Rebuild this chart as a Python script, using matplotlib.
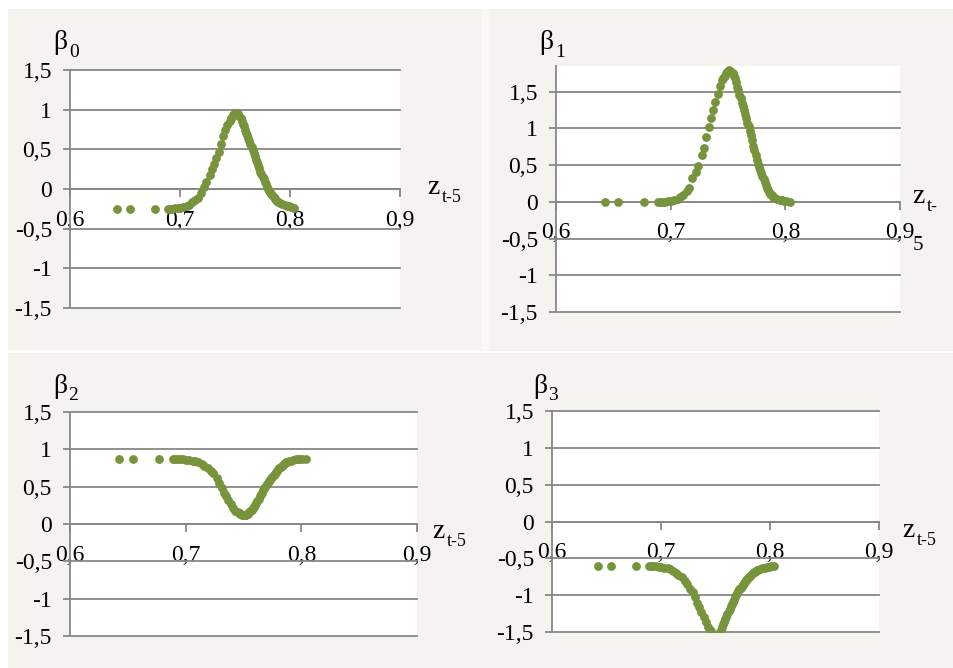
import matplotlib
matplotlib.use('Agg')
import matplotlib.pyplot as plt
from matplotlib.patches import Rectangle
import numpy as np

# shared z_{t-5} values of the points
z = [0.6425, 0.6545, 0.6770, 0.6890, 0.6910, 0.6930, 0.6950, 0.6980, 0.7000,
     0.7030, 0.7060, 0.7080, 0.7110, 0.7140, 0.7160, 0.7190, 0.7220, 0.7240,
     0.7270, 0.7290, 0.7310, 0.7330, 0.7350, 0.7370, 0.7390, 0.7410, 0.7430,
     0.745, 0.746, 0.747, 0.748, 0.749, 0.750, 0.751, 0.752, 0.753, 0.754,
     0.755, 0.756, 0.757, 0.758, 0.759, 0.760, 0.761, 0.762, 0.763, 0.764,
     0.765, 0.766, 0.767, 0.768, 0.769, 0.770, 0.771, 0.772, 0.773, 0.774,
     0.775, 0.776, 0.777, 0.778, 0.779, 0.780, 0.781, 0.782, 0.783, 0.784,
     0.785, 0.786, 0.787, 0.788, 0.789,
     0.791, 0.793, 0.795, 0.797, 0.799, 0.801, 0.804]

beta0 = [-0.25, -0.25, -0.25, -0.25, -0.25, -0.25, -0.245, -0.24, -0.235,
         -0.225, -0.21, -0.20, -0.17, -0.14, -0.11, -0.05, 0.03, 0.09,
         0.18, 0.25, 0.32, 0.39, 0.47, 0.57, 0.67, 0.74, 0.81,
         0.86, 0.89, 0.91, 0.93, 0.95, 0.96, 0.96, 0.955, 0.94, 0.92,
         0.89, 0.86, 0.82, 0.79, 0.75, 0.71, 0.68, 0.64, 0.61, 0.57,
         0.53, 0.49, 0.45, 0.41, 0.37, 0.34, 0.30, 0.26, 0.22, 0.19,
         0.15, 0.12, 0.09, 0.06, 0.03, 0.00, -0.02, -0.04, -0.06, -0.08,
         -0.10, -0.12, -0.135, -0.15, -0.16,
         -0.18, -0.19, -0.20, -0.21, -0.22, -0.23, -0.245]

beta1 = [0.0, 0.0, 0.0, 0.0, 0.0, 0.0, 0.0, 0.005, 0.01,
         0.02, 0.04, 0.07, 0.10, 0.15, 0.19, 0.32, 0.40, 0.49,
         0.64, 0.74, 0.88, 1.02, 1.14, 1.25, 1.36, 1.47, 1.58,
         1.66, 1.69, 1.72, 1.75, 1.77, 1.78, 1.79, 1.785, 1.77, 1.75,
         1.72, 1.68, 1.63, 1.57, 1.52, 1.46, 1.41, 1.35, 1.30, 1.25,
         1.19, 1.14, 1.08, 1.03, 0.97, 0.91, 0.84, 0.76, 0.70, 0.64,
         0.57, 0.52, 0.47, 0.43, 0.39, 0.35, 0.31, 0.27, 0.23, 0.19,
         0.16, 0.13, 0.11, 0.09, 0.07,
         0.05, 0.04, 0.03, 0.02, 0.01, 0.005, 0.0]

beta2 = [0.866, 0.866, 0.866, 0.866, 0.866, 0.866, 0.865, 0.864, 0.862,
         0.856, 0.848, 0.84, 0.825, 0.80, 0.78, 0.75, 0.71, 0.68,
         0.61, 0.55, 0.48, 0.42, 0.37, 0.32, 0.27, 0.22, 0.18,
         0.16, 0.15, 0.14, 0.13, 0.125, 0.12, 0.12, 0.125, 0.13, 0.14,
         0.155, 0.17, 0.19, 0.21, 0.23, 0.26, 0.28, 0.31, 0.34, 0.37,
         0.40, 0.42, 0.45, 0.48, 0.50, 0.53, 0.55, 0.57, 0.59, 0.61,
         0.63, 0.65, 0.67, 0.69, 0.71, 0.73, 0.745, 0.76, 0.78, 0.79,
         0.805, 0.815, 0.825, 0.835, 0.84,
         0.85, 0.86, 0.865, 0.868, 0.87, 0.872, 0.875]

beta3 = [-0.607, -0.607, -0.607, -0.607, -0.607, -0.608, -0.61, -0.612, -0.615,
         -0.625, -0.635, -0.645, -0.67, -0.70, -0.72, -0.76, -0.81, -0.85,
         -0.92, -0.96, -1.03, -1.10, -1.16, -1.23, -1.30, -1.37, -1.43,
         -1.47, -1.49, -1.51, -1.54, -1.56, -1.58, -1.58, -1.57, -1.54, -1.50,
         -1.47, -1.43, -1.39, -1.36, -1.33, -1.30, -1.26, -1.22, -1.19, -1.15,
         -1.12, -1.09, -1.06, -1.03, -1.00, -0.97, -0.95, -0.92, -0.90, -0.88,
         -0.86, -0.84, -0.82, -0.80, -0.78, -0.765, -0.75, -0.735, -0.72, -0.70,
         -0.69, -0.68, -0.67, -0.66, -0.655,
         -0.645, -0.635, -0.625, -0.62, -0.615, -0.61, -0.607]

x_ticks = [0.6, 0.7, 0.8, 0.9]
x_labels = ['0,6', '0,7', '0,8', '0,9']
y_ticks = [-1.5, -1.0, -0.5, 0.0, 0.5, 1.0, 1.5]
y_labels = ['-1,5', '-1', '-0,5', '0', '0,5', '1', '1,5']

W, H = 954, 668
GREY = '#878787'
GREEN = '#77933c'
BEIGE = '#f4f3ef'
SERIF = 'Liberation Serif'

plt.rcParams['font.family'] = SERIF

fig = plt.figure(figsize=(W / 100, H / 100), dpi=100)
fig.patch.set_facecolor('white')

# panel backgrounds
fig.patches.append(Rectangle((481 / W, 1 - 351 / H), 9 / W, 342 / H,
                             transform=fig.transFigure, facecolor='#f9f8f5',
                             edgecolor='none', zorder=-11))
for x0, y0, x1, y1 in [(8, 9, 481, 350), (490, 9, 954, 351),
                       (8, 353, 480, 668), (480, 353, 954, 668)]:
    fig.patches.append(Rectangle((x0 / W, 1 - y1 / H), (x1 - x0) / W, (y1 - y0) / H,
                                 transform=fig.transFigure, facecolor=BEIGE,
                                 edgecolor='none', zorder=-10))


def ptext(x, y, s, size, **kw):
    fig.text(x / W, 1 - y / H, s, fontsize=size, family=SERIF,
             va='baseline', ha='left', **kw)


def panel(x0, x1, ytop, ybot, ymax, yvals):
    ax = fig.add_axes([x0 / W, 1 - ybot / H, (x1 - x0) / W, (ybot - ytop) / H])
    ax.set_zorder(1)
    ax.set_facecolor('white')
    ax.set_xlim(0.6, 0.9)
    ax.set_ylim(-1.5, ymax)
    for s in ['top', 'right']:
        ax.spines[s].set_visible(False)
    ax.spines['left'].set_color(GREY)
    ax.spines['left'].set_linewidth(1.3)
    ax.spines['bottom'].set_position(('data', 0))
    ax.spines['bottom'].set_color(GREY)
    ax.spines['bottom'].set_linewidth(1.3)
    ax.set_xticks(x_ticks)
    ax.set_xticklabels(x_labels)
    ax.set_yticks(y_ticks)
    ax.set_yticklabels(y_labels)
    ax.tick_params(axis='y', length=5, width=1.3, color=GREY, pad=8,
                   labelsize=17, labelcolor='black')
    ax.tick_params(axis='x', direction='out', length=5.8, width=1.3,
                   color=GREY, pad=9, labelsize=17, labelcolor='black')
    ax.yaxis.grid(True, color=GREY, linewidth=1.3)
    for gl in ax.get_ygridlines():
        gl.set_clip_on(False)
    ax.set_axisbelow(True)
    zz = np.array(z)
    yy = np.array(yvals)
    keep = (yy >= -1.5) & (yy <= ymax)
    ax.scatter(zz[keep], yy[keep], s=40, color=GREEN, linewidths=0, zorder=3)
    return ax


panel(70, 400, 70, 308, 1.5, beta0)
panel(556, 900, 66, 312, 1.85, beta1)
panel(70, 417, 412, 636, 1.5, beta2)
panel(552, 879, 411, 632, 1.5, beta3)

# titles
ptext(53, 49, '\u03b2', 20)
ptext(69, 57, '0', 14)
ptext(539, 49, '\u03b2', 20)
ptext(555, 57, '1', 14)
ptext(53, 393, '\u03b2', 20)
ptext(68, 400, '2', 14)
ptext(533, 393, '\u03b2', 20)
ptext(548, 400, '3', 14)

# axis names
ptext(427, 194, 'z', 20)
ptext(442, 202, 't-5', 13)
ptext(912, 203, 'z', 20)
ptext(927, 211, 't-', 13)
ptext(913, 250, '5', 15)
ptext(432, 538, 'z', 20)
ptext(447, 546, 't-5', 13)
ptext(902, 537, 'z', 20)
ptext(917, 545, 't-5', 13)

plt.savefig('out.png', dpi=100, facecolor=fig.get_facecolor())
plt.close(fig)
